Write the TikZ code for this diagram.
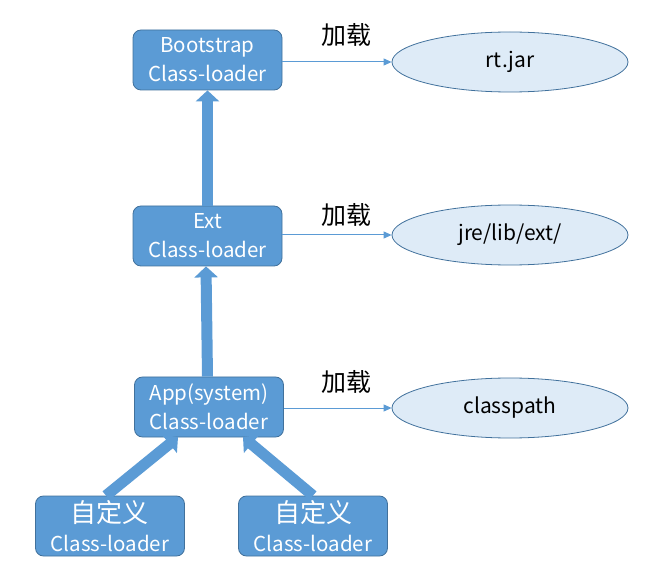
\documentclass[tikz,border=0pt]{standalone}
\usepackage{fontspec}
\setmainfont{Noto Sans CJK SC}
\usetikzlibrary{arrows.meta,shapes.geometric}
\definecolor{boxfill}{HTML}{5B9BD5}
\definecolor{boxline}{HTML}{41719C}
\definecolor{ellfill}{HTML}{DEEBF7}
\newcommand\cnbig{\fontsize{26}{30}\selectfont}
\begin{document}
\begin{tikzpicture}[x=1pt,y=-1pt,
  loader/.style={draw=boxline,line width=0.8pt,fill=boxfill,rounded corners=8pt,
    minimum width=149pt,minimum height=60pt,inner sep=0pt,text=white,
    align=center,font=\fontsize{20.5}{29}\selectfont},
  target/.style={ellipse,draw=boxline,line width=0.8pt,fill=ellfill,
    minimum width=236pt,minimum height=60pt,inner sep=0pt,
    font=\fontsize{21}{24}\selectfont},
  loadlabel/.style={font=\fontsize{25}{28}\selectfont},
  thin/.style={draw=boxfill,line width=1pt,-{Triangle[width=7pt,length=8pt]}},
  thick/.style={draw=boxfill,line width=11pt,-{Triangle[width=23pt,length=11pt]}}]
\useasboundingbox (0,0) rectangle (646,588);
\node[loader] (boot) at (207.5,60) {Bootstrap\\Class-loader};
\node[loader] (ext) at (207.5,236) {Ext\\Class-loader};
\node[loader] (app) at (209,407) {App(system)\\Class-loader};
\node[loader] (c1) at (110,526) {{\cnbig 自定义}\\Class-loader};
\node[loader] (c2) at (313,526) {{\cnbig 自定义}\\Class-loader};
\node[target] (rt) at (510,62) {rt.jar};
\node[target] (jre) at (510,235) {jre/lib/ext/};
\node[target] (cp) at (510,408) {classpath};
\node[loadlabel] (l1) at (346,35) {加载};
\node[loadlabel] (l2) at (346,215) {加载};
\node[loadlabel] (l3) at (346,382) {加载};
\draw[thin] (boot.east |- rt.west) -- (rt.west);
\draw[thin] (ext.east |- jre.west) -- (jre.west);
\draw[thin] (app.east |- cp.west) -- (cp.west);
\draw[thick] (ext.north) -- (boot.south);
\draw[thick] ([xshift=-1.5pt]app.north) -- ([xshift=-1.5pt]ext.south);
\coordinate (t1) at (178,437);
\coordinate (t2) at (243,437);
\draw[thick] ([xshift=-4pt]c1.north) -- (t1);
\draw[thick] (c2.north) -- (t2);
\end{tikzpicture}
\end{document}
